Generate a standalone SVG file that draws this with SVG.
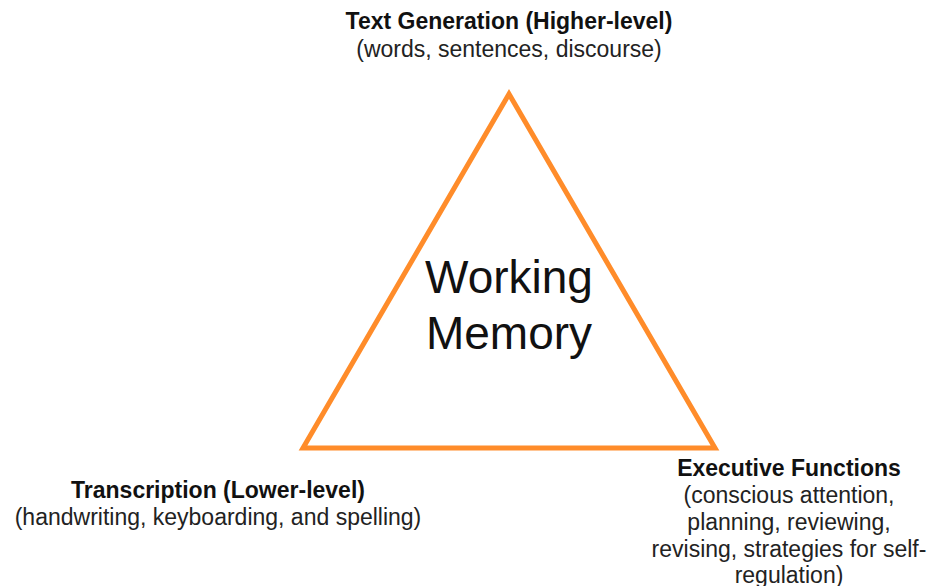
<svg xmlns="http://www.w3.org/2000/svg" width="931" height="586" viewBox="0 0 931 586">
<style>
.b{font-family:"Liberation Sans",Arial,sans-serif;font-weight:bold;font-size:23px;fill:#111;text-anchor:middle}
.r{font-family:"Liberation Sans",Arial,sans-serif;font-size:23px;fill:#222;text-anchor:middle}
.big{font-family:"Liberation Sans",Arial,sans-serif;font-size:46px;fill:#111;text-anchor:middle}
</style>
<rect width="931" height="586" fill="#fff"/>
<g id="triangle">
<polygon points="509,94 303,448 715,448" fill="none" stroke="#FF8C2A" stroke-width="5" stroke-linejoin="miter"/>
</g>
<g id="center">
<text class="big" x="509" y="293">Working</text>
<text class="big" x="509" y="349">Memory</text>
</g>
<g id="top-node">
<text class="b" x="509" y="29">Text Generation (Higher-level)</text>
<text class="r" x="509" y="57">(words, sentences, discourse)</text>
</g>
<g id="left-node">
<text class="b" x="218" y="498">Transcription (Lower-level)</text>
<text class="r" x="218" y="525">(handwriting, keyboarding, and spelling)</text>
</g>
<g id="right-node">
<text class="b" x="789" y="476">Executive Functions</text>
<text class="r" x="789" y="503">(conscious attention,</text>
<text class="r" x="789" y="530">planning, reviewing,</text>
<text class="r" x="789" y="557">revising, strategies for self-</text>
<text class="r" x="789" y="583">regulation)</text>
</g>
</svg>
